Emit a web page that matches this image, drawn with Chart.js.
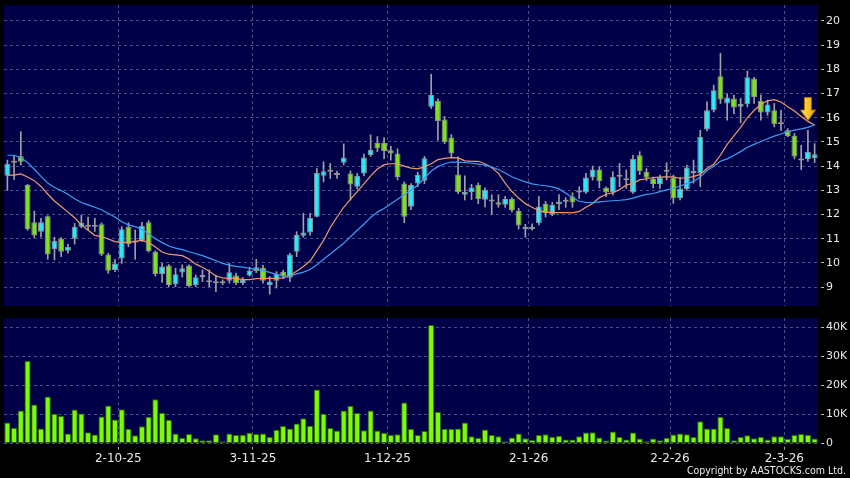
<!DOCTYPE html>
<html>
<head>
<meta charset="utf-8">
<script src="https://cdn.jsdelivr.net/npm/chart.js@4.4.1/dist/chart.umd.min.js"></script>
<style>
  html, body { margin: 0; padding: 0; background: #000; }
  #wrap { position: relative; width: 850px; height: 478px; overflow: hidden; background: #000; }
  #priceBox { position: absolute; left: 0; top: 0; }
  #volBox { position: absolute; left: 0; top: 310px; }
  #copy { position: absolute; right: 4px; top: 464px; line-height: 12px; color: #e8e8e8;
          font-family: "DejaVu Sans Condensed", "DejaVu Sans", sans-serif; font-size: 10.5px; white-space: nowrap; }
</style>
</head>
<body>
<div id="wrap">
  <div id="priceBox"><canvas id="priceChart" width="850" height="310"></canvas></div>
  <div id="volBox"><canvas id="volChart" width="850" height="168"></canvas></div>
  <div id="copy">Copyright by AASTOCKS.com Ltd.</div>
</div>
<script>
// trading days, d-m-yy
const dates = [
  '8-9-25','9-9-25','10-9-25','11-9-25','12-9-25','15-9-25','16-9-25','17-9-25','18-9-25','19-9-25','22-9-25','23-9-25','24-9-25','25-9-25','26-9-25','29-9-25','30-9-25',
  '2-10-25','3-10-25','6-10-25','8-10-25','9-10-25','10-10-25','13-10-25','14-10-25','15-10-25','16-10-25','17-10-25','20-10-25','21-10-25','22-10-25','23-10-25','24-10-25','27-10-25','28-10-25','30-10-25','31-10-25',
  '3-11-25','4-11-25','5-11-25','6-11-25','7-11-25','10-11-25','11-11-25','12-11-25','13-11-25','14-11-25','17-11-25','18-11-25','19-11-25','20-11-25','21-11-25','24-11-25','25-11-25','26-11-25','27-11-25','28-11-25',
  '1-12-25','2-12-25','3-12-25','4-12-25','5-12-25','8-12-25','9-12-25','10-12-25','11-12-25','12-12-25','15-12-25','16-12-25','17-12-25','18-12-25','19-12-25','22-12-25','23-12-25','24-12-25','29-12-25','30-12-25','31-12-25',
  '2-1-26','5-1-26','6-1-26','7-1-26','8-1-26','9-1-26','12-1-26','13-1-26','14-1-26','15-1-26','16-1-26','19-1-26','20-1-26','21-1-26','22-1-26','23-1-26','26-1-26','27-1-26','28-1-26','29-1-26','30-1-26',
  '2-2-26','3-2-26','4-2-26','5-2-26','6-2-26','9-2-26','10-2-26','11-2-26','12-2-26','13-2-26','16-2-26','20-2-26','23-2-26','24-2-26','25-2-26','26-2-26','27-2-26',
  '2-3-26','3-3-26','4-3-26','5-3-26','6-3-26'
];
const tickDates = ['2-10-25', '3-11-25', '1-12-25', '2-1-26', '2-2-26', '2-3-26'];

const open = [
  13.6, 14.14, 14.41, 13.22, 11.68, 11.29, 11.93, 10.57, 11.0, 10.5, 11.0, 11.5, 11.5, 11.5, 11.6, 10.35, 9.71, 10.18, 11.5, 10.84,
  10.95, 11.68, 10.46, 9.54, 9.89, 9.12, 9.6, 9.89, 9.09, 9.4, 9.2, 9.16, 9.16, 9.26, 9.48, 9.16, 9.48, 9.67, 9.8, 9.09,
  9.26, 9.64, 9.39, 10.46, 11.12, 11.26, 11.91, 13.6, 13.77, 13.63, 14.14, 13.7, 13.15, 13.7, 14.46, 14.96, 14.96, 14.66, 14.52, 13.28,
  12.32, 13.28, 13.4, 16.45, 16.7, 15.93, 15.18, 13.65, 12.82, 12.93, 13.23, 12.61, 12.54, 12.51, 12.4, 12.64, 12.15, 11.5, 11.4, 11.64,
  12.44, 11.99, 12.44, 12.53, 12.75, 12.91, 12.91, 13.53, 13.86, 13.11, 12.91, 13.56, 13.42, 12.91, 14.45, 13.77, 13.49, 13.26, 13.77, 13.53,
  12.67, 13.05, 13.72, 13.72, 15.51, 16.31, 17.72, 16.59, 16.8, 16.45, 16.56, 17.62, 16.7, 16.22, 16.31, 15.73, 15.48, 15.26, 14.23, 14.3,
  14.33
];
const high = [
  14.25, 14.45, 15.43, 13.25, 12.14, 11.84, 11.95, 11.06, 11.05, 10.78, 11.63, 11.98, 11.9, 11.85, 11.65, 10.4, 10.15, 11.5, 11.66, 11.36,
  11.68, 11.75, 10.5, 9.98, 9.93, 9.78, 9.92, 9.92, 9.5, 9.71, 9.71, 9.5, 9.3, 9.98, 9.58, 9.4, 9.82, 10.15, 9.9, 9.44,
  9.64, 9.7, 10.4, 11.29, 12.05, 12.05, 13.9, 14.18, 14.11, 13.8, 14.92, 13.8, 13.7, 14.5, 15.29, 15.22, 15.18, 14.82, 14.72, 13.35,
  13.28, 13.75, 14.4, 17.8, 16.78, 16.05, 15.3, 14.38, 13.6, 13.25, 13.3, 13.1, 12.82, 12.82, 12.75, 12.7, 12.26, 11.6, 11.62, 12.75,
  12.54, 12.5, 12.82, 12.7, 12.9, 13.15, 13.7, 14.0, 13.97, 13.15, 13.77, 14.11, 13.84, 14.45, 14.6, 13.9, 13.55, 13.63, 14.14, 13.63,
  13.53, 14.04, 14.25, 15.48, 16.66, 17.35, 18.66, 16.99, 16.94, 16.8, 17.93, 17.67, 16.94, 16.73, 16.59, 16.31, 15.55, 15.35, 14.86, 15.48,
  14.93
];
const low = [
  13.0, 13.45, 14.05, 11.35, 11.05, 11.06, 10.15, 10.12, 10.26, 10.4, 10.78, 11.45, 11.36, 11.3, 10.3, 9.57, 9.64, 9.98, 10.67, 10.15,
  10.88, 10.45, 9.46, 9.19, 9.02, 9.02, 9.42, 9.0, 9.02, 9.23, 9.02, 8.81, 9.1, 9.16, 9.1, 9.1, 9.45, 9.6, 9.16, 8.71,
  8.96, 9.35, 9.23, 10.26, 11.06, 11.15, 11.9, 13.35, 13.49, 13.49, 14.05, 12.6, 13.05, 13.6, 14.4, 14.6, 14.31, 14.25, 13.43, 11.66,
  12.2, 13.15, 13.28, 16.38, 15.07, 14.93, 14.38, 12.86, 12.6, 12.62, 12.45, 12.32, 12.0, 12.3, 12.3, 12.1, 11.4, 11.06, 11.35, 11.57,
  11.9, 11.95, 12.2, 12.3, 12.3, 12.66, 12.87, 13.42, 13.1, 12.74, 12.8, 13.15, 13.08, 12.87, 13.65, 13.4, 13.1, 13.08, 13.43, 12.46,
  12.6, 13.0, 13.3, 13.15, 15.46, 16.24, 16.59, 15.9, 16.17, 15.79, 16.45, 16.59, 15.9, 16.1, 15.62, 15.48, 15.21, 14.3, 13.86, 14.2,
  14.15
];
const close = [
  14.1, 14.14, 14.18, 11.39, 11.13, 11.68, 10.35, 10.92, 10.46, 10.67, 11.5, 11.66, 11.5, 11.5, 10.35, 9.68, 9.98, 11.39, 10.77, 10.84,
  11.54, 10.49, 9.54, 9.85, 9.09, 9.53, 9.78, 9.05, 9.41, 9.5, 9.2, 9.16, 9.16, 9.62, 9.16, 9.3, 9.67, 9.82, 9.26, 9.23,
  9.55, 9.44, 10.35, 11.15, 11.26, 11.87, 13.72, 13.79, 13.77, 13.63, 14.36, 13.24, 13.6, 14.36, 14.67, 14.73, 14.63, 14.52, 13.55, 11.91,
  13.22, 13.65, 14.33, 16.94, 15.86, 15.0, 14.52, 12.93, 12.93, 13.12, 12.64, 13.02, 12.54, 12.4, 12.64, 12.17, 11.55, 11.4, 11.5, 12.33,
  12.05, 12.4, 12.54, 12.6, 12.5, 12.91, 13.53, 13.86, 13.38, 12.91, 13.56, 13.56, 13.42, 14.3, 13.79, 13.52, 13.26, 13.53, 13.77, 12.67,
  13.08, 13.94, 13.72, 15.21, 16.31, 17.14, 16.75, 16.84, 16.42, 16.57, 17.67, 16.86, 16.22, 16.55, 15.73, 15.73, 15.25, 14.4, 14.23, 14.6,
  14.49
];
// moving averages as drawn (orange = 10 day, blue = 20 day)
const ma10 = [
  13.63, 13.63, 13.68, 13.55, 13.4, 13.16, 12.85, 12.56, 12.33, 12.1, 11.87, 11.58, 11.35, 11.14, 11.09, 10.99, 10.88, 10.85, 10.86, 10.88,
  10.94, 10.84, 10.66, 10.45, 10.36, 10.33, 10.3, 10.16, 9.95, 9.82, 9.66, 9.46, 9.38, 9.36, 9.36, 9.31, 9.31, 9.35, 9.36, 9.36,
  9.36, 9.38, 9.48, 9.66, 9.85, 10.08, 10.5, 10.93, 11.46, 11.9, 12.3, 12.63, 12.95, 13.27, 13.6, 13.88, 14.06, 14.1, 14.1, 14.0,
  13.92, 13.89, 13.97, 14.1, 14.27, 14.32, 14.35, 14.34, 14.22, 14.2, 14.2, 14.1, 13.94, 13.7, 13.3, 12.95, 12.68, 12.45, 12.3, 12.16,
  12.1, 12.08, 12.08, 12.08, 12.07, 12.13, 12.3, 12.46, 12.7, 12.84, 12.9, 13.03, 13.22, 13.29, 13.43, 13.48, 13.53, 13.55, 13.56, 13.56,
  13.5, 13.52, 13.57, 13.67, 13.9, 14.08, 14.45, 14.9, 15.25, 15.6, 16.0, 16.3, 16.55, 16.7, 16.75, 16.65, 16.45, 16.28, 16.05, 15.85,
  15.7
];
const ma20 = [
  14.45, 14.45, 14.35, 14.15, 13.87, 13.58, 13.3, 13.12, 12.99, 12.84, 12.65, 12.5, 12.4, 12.3, 12.2, 12.04, 11.9, 11.7, 11.57, 11.5,
  11.39, 11.2, 11.0, 10.84, 10.7, 10.61, 10.55, 10.46, 10.38, 10.3, 10.2, 10.09, 9.98, 9.91, 9.86, 9.83, 9.78, 9.73, 9.68, 9.61,
  9.53, 9.47, 9.45, 9.55, 9.62, 9.73, 9.92, 10.15, 10.37, 10.6, 10.81, 11.08, 11.35, 11.6, 11.88, 12.1, 12.25, 12.45, 12.63, 12.82,
  13.0, 13.22, 13.5, 13.8, 13.98, 14.1, 14.17, 14.17, 14.15, 14.12, 14.08, 14.04, 13.96, 13.86, 13.72, 13.56, 13.45, 13.35, 13.27, 13.22,
  13.19, 13.14, 13.06, 12.88, 12.7, 12.55, 12.5, 12.49, 12.52, 12.55, 12.57, 12.59, 12.62, 12.68, 12.76, 12.83, 12.87, 12.95, 13.02, 13.08,
  13.18, 13.28, 13.36, 13.55, 13.82, 14.0, 14.2, 14.3, 14.45, 14.6, 14.78, 14.9, 15.02, 15.13, 15.24, 15.33, 15.42, 15.49, 15.54, 15.6,
  15.7
];
// volume in thousands
const volume = [
  7.2, 5.4, 11.4, 28.4, 13.4, 5.2, 16.2, 10.2, 9.5, 3.4, 11.7, 10.3, 3.9, 3.1, 9.3, 13.1, 8.3, 11.8, 5.1, 2.8,
  5.9, 9.2, 15.2, 10.6, 8.2, 3.4, 2.0, 3.3, 1.8, 1.1, 1.1, 3.2, 0.8, 3.4, 2.9, 3.0, 3.7, 3.3, 3.4, 2.2,
  4.7, 6.0, 5.2, 6.9, 8.7, 6.1, 18.6, 10.2, 5.3, 4.5, 11.4, 13.0, 10.5, 4.6, 11.4, 4.5, 3.7, 3.0, 3.2, 14.1,
  5.1, 2.9, 4.3, 40.8, 10.9, 5.1, 5.1, 5.2, 7.2, 2.5, 2.0, 4.8, 2.9, 2.5, 0.8, 2.1, 3.4, 1.8, 1.2, 2.9,
  3.2, 2.3, 2.7, 1.4, 1.4, 2.5, 3.8, 3.9, 2.1, 1.0, 4.1, 2.2, 1.4, 3.8, 1.7, 0.8, 1.7, 1.1, 2.0, 3.1,
  3.4, 3.2, 2.2, 7.7, 5.2, 5.2, 9.2, 5.3, 1.1, 2.2, 2.8, 1.8, 2.3, 1.4, 2.5, 2.5, 1.6, 2.9, 3.3, 3.0,
  1.7
];

const priceTicks = [9, 10, 11, 12, 13, 14, 15, 16, 17, 18, 19, 20];
const volumeTicks = [0, 10, 20, 30, 40];
const volumeTickLabels = ['0', '10K', '20K', '30K', '40K'];
const arrowDate = '5-3-26';
const arrowValue = 16.36;

const PANEL_BG = '#000048';
const GRID = '#4e4e86';
const TEXT = '#e8e8e8';
const UP = '#2ee6f6';
const DOWN = '#7ee01e';
const FLAT = '#a8a8a8';

Chart.defaults.font.family = 'DejaVu Sans';
Chart.defaults.color = TEXT;

const navyBg = {
  id: 'navyBg',
  beforeDraw(chart) {
    const { ctx, chartArea: a } = chart;
    ctx.save();
    ctx.fillStyle = PANEL_BG;
    ctx.fillRect(a.left, a.top, a.right - a.left, a.bottom - a.top);
    ctx.restore();
  }
};

const isTickDate = i => tickDates.includes(dates[i]);

function makeArrow() {
  const c = document.createElement('canvas');
  c.width = 16; c.height = 24;
  const g = c.getContext('2d');
  const grad = g.createLinearGradient(0, 0, 16, 0);
  grad.addColorStop(0, '#ffe860');
  grad.addColorStop(1, '#f0a400');
  g.fillStyle = grad;
  g.strokeStyle = '#b07000';
  g.lineWidth = 1;
  g.beginPath();
  g.moveTo(4.5, 0.5); g.lineTo(11.5, 0.5); g.lineTo(11.5, 13); g.lineTo(15.5, 13);
  g.lineTo(8, 23.5); g.lineTo(0.5, 13); g.lineTo(4.5, 13);
  g.closePath(); g.fill(); g.stroke();
  return c;
}

function xScale(showLabels, height) {
  return {
    offset: true,
    ticks: {
      display: showLabels, autoSkip: false, maxRotation: 0, minRotation: 0,
      color: TEXT, font: { size: 12 }, padding: 2, labelOffset: -3.4,
      callback: (v, i) => isTickDate(i) ? dates[i] : ''
    },
    grid: {
      offset: true,
      color: ctx => isTickDate(ctx.index) ? GRID : 'transparent',
      drawTicks: showLabels,
      tickLength: 6,
      tickBorderDash: [0, 3, 3, 50],
      tickColor: ctx => isTickDate(ctx.index) ? '#bbbbbb' : 'transparent'
    },
    border: { display: false, dash: [3, 3] },
    afterFit: s => { s.height = height; s.paddingLeft = 0; s.paddingRight = 0; }
  };
}

function yScale(min, max, tickValues, label) {
  return {
    position: 'right',
    min: min,
    max: max,
    afterBuildTicks: s => { s.ticks = tickValues.map(v => ({ value: v })); },
    afterFit: s => { s.width = 32; s.paddingTop = 0; s.paddingBottom = 0; },
    ticks: { color: TEXT, font: { size: 11 }, padding: 2, callback: label },
    grid: { color: GRID, tickColor: '#bbbbbb', tickLength: 6, tickBorderDash: [0, 3, 3, 50] },
    border: { display: false, dash: [3, 3] }
  };
}

const bodyColors = open.map((o, i) => close[i] > o ? UP : (close[i] < o ? DOWN : FLAT));

new Chart(document.getElementById('priceChart'), {
  type: 'bar',
  data: {
    labels: dates,
    datasets: [
      {
        label: 'Range',
        data: low.map((l, i) => [l, high[i]]),
        backgroundColor: '#a0a0a0',
        barThickness: 1,
        grouped: false,
        order: 3
      },
      {
        label: 'Price',
        data: open.map((o, i) => [o, close[i]]),
        backgroundColor: bodyColors,
        borderColor: '#949494',
        borderWidth: 1,
        borderSkipped: false,
        minBarLength: 2,
        barPercentage: 0.88,
        categoryPercentage: 1,
        grouped: false,
        order: 2
      },
      {
        type: 'line', label: 'MA20', data: ma20,
        borderColor: '#3c9ef0', borderWidth: 1.2, pointRadius: 0, tension: 0, order: 1
      },
      {
        type: 'line', label: 'MA10', data: ma10,
        borderColor: '#f09a6a', borderWidth: 1.2, pointRadius: 0, tension: 0, order: 1
      },
      {
        type: 'line', label: 'Signal',
        data: dates.map(d => d === arrowDate ? arrowValue : null),
        showLine: false, pointStyle: makeArrow(), pointRadius: 1, order: 0
      }
    ]
  },
  options: {
    responsive: false,
    animation: false,
    events: [],
    devicePixelRatio: 1,
    layout: { autoPadding: false, padding: { left: 4, top: 5, right: 0, bottom: 4 } },
    plugins: { legend: { display: false }, tooltip: { enabled: false } },
    scales: {
      x: xScale(false, 0),
      y: yScale(8.22, 20.66, priceTicks, v => String(v))
    }
  },
  plugins: [navyBg]
});

new Chart(document.getElementById('volChart'), {
  type: 'bar',
  data: {
    labels: dates,
    datasets: [{
      label: 'Volume',
      data: volume,
      backgroundColor: '#7cfc00',
      borderColor: '#2f6400',
      borderWidth: 1,
      borderSkipped: false,
      barPercentage: 0.92,
      categoryPercentage: 1
    }]
  },
  options: {
    responsive: false,
    animation: false,
    events: [],
    devicePixelRatio: 1,
    layout: { autoPadding: false, padding: { left: 4, top: 8, right: 0, bottom: 0 } },
    plugins: { legend: { display: false }, tooltip: { enabled: false } },
    scales: {
      x: xScale(true, 34.5),
      y: yScale(0, 43.2, volumeTicks, (v, i) => volumeTickLabels[i])
    }
  },
  plugins: [navyBg]
});
</script>
</body>
</html>
